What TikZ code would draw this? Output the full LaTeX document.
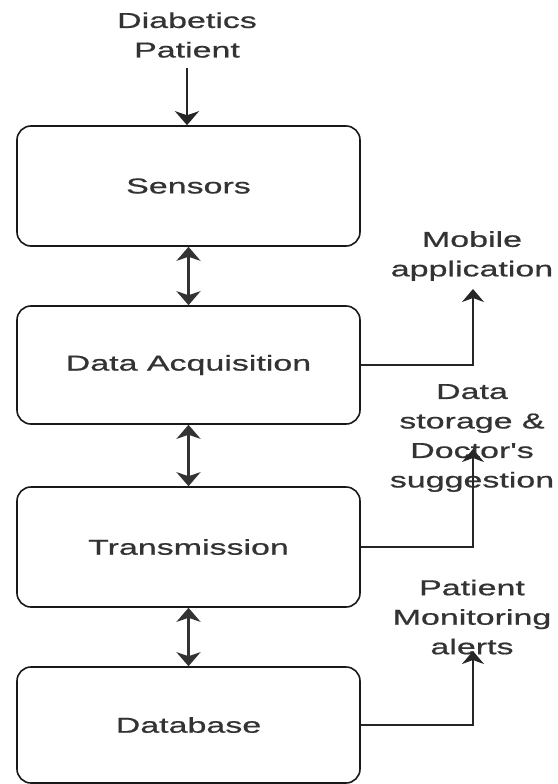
\documentclass[tikz,border=0pt]{standalone}
\usepackage{fontspec}
\setmainfont[Ligatures=TeXOff, FakeStretch=1.58, FakeBold=0.8]{Liberation Sans}
\usetikzlibrary{arrows.meta}
\tikzset{
  blk/.style={draw=black!90, line width=1.6pt, rounded corners=14pt, minimum width=343pt, inner sep=0pt},
  lbl/.style={align=center, inner sep=0pt, font=\fontsize{21.5}{29.5}\selectfont, text=black!80},
  conn/.style={line width=1.8pt, draw=black!85, -{Stealth[length=14pt,width=24pt,inset=4pt]}},
  dconn/.style={line width=2.2pt, draw=black!80, {Stealth[length=14pt,width=24pt,inset=4pt]}-{Stealth[length=14pt,width=24pt,inset=4pt]}},
  sconn/.style={line width=1.7pt, draw=black!85, -{Stealth[length=13pt,width=22pt,inset=4pt]}}
}
\begin{document}
\begin{tikzpicture}[x=1pt,y=1pt]
\useasboundingbox (0,0) rectangle (557,-784);
\node[blk, minimum height=120pt] (sen) at (188.5,-186) {};
\node[blk, minimum height=118pt] (daq) at (188.5,-365) {};
\node[blk, minimum height=120pt] (trn) at (188.5,-547) {};
\node[blk, minimum height=116pt] (db)  at (188.5,-725) {};
\node[lbl] at (sen.center) {Sensors};
\node[lbl] at (daq.center) {Data Acquisition};
\node[lbl] at (trn.center) {Transmission};
\node[lbl] at (db.center) {Database};
\node[lbl] (pat) at (187,-35) {Diabetics\\Patient};
\node[lbl] (mob) at (472,-256) {Mobile\\application};
\node[lbl] (dsd) at (472,-438) {Data\\storage \&\\Doctor's\\suggestion};
\node[lbl] (pma) at (472,-617) {Patient\\Monitoring\\alerts};
\coordinate (pbot) at (187,-68);
\coordinate (mtip) at (473,-289);
\coordinate (dtip) at (473,-449);
\coordinate (ptip) at (473,-651);
\draw[conn] (pbot) -- (sen.north -| pbot);
\draw[dconn] (sen.south) -- (daq.north);
\draw[dconn] (daq.south) -- (trn.north);
\draw[dconn] (trn.south) -- (db.north);
\draw[sconn] (daq.east) -| (mtip);
\draw[sconn] (trn.east) -| (dtip);
\draw[sconn] (db.east) -| (ptip);
\end{tikzpicture}
\end{document}
